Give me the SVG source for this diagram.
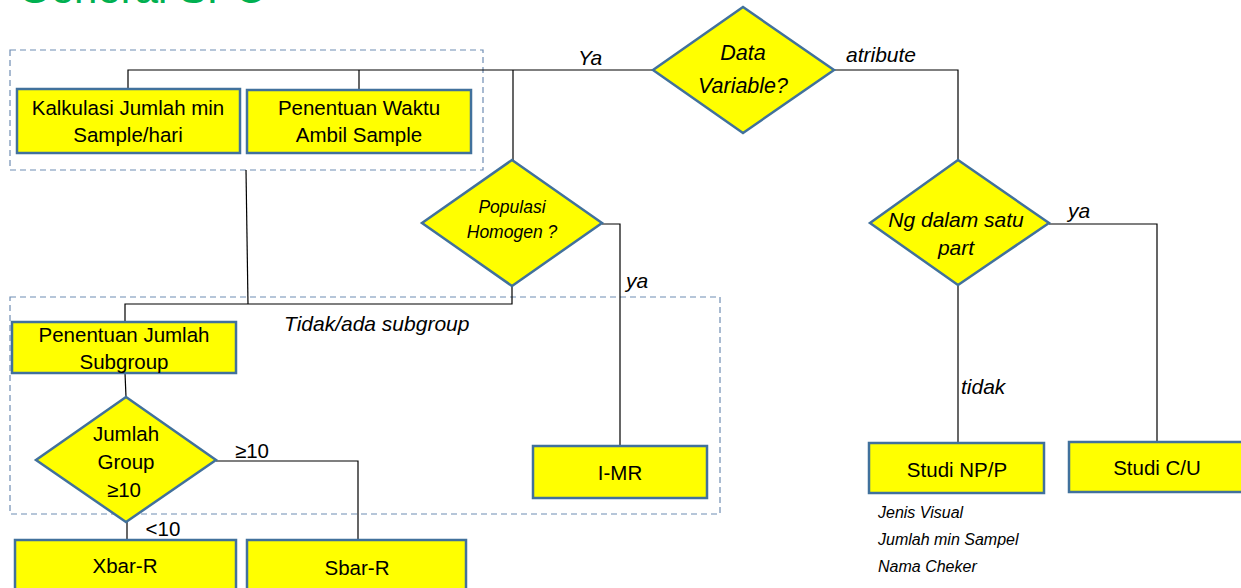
<svg xmlns="http://www.w3.org/2000/svg" width="1241" height="588" viewBox="0 0 1241 588">
<style>
.box{fill:#FFFF00;stroke:#41719C;stroke-width:2.5}
.grp{fill:none;stroke:#6F8DB3;stroke-width:1.2;stroke-dasharray:6 4}
.ln{fill:none;stroke:#000;stroke-width:1.2}
.t{font-family:"Liberation Sans",Arial,sans-serif;font-size:20.5px;fill:#000;text-anchor:middle}
.i{font-style:italic}
.lb{font-family:"Liberation Sans",Arial,sans-serif;font-size:21px;font-style:italic;fill:#000}
.n{font-family:"Liberation Sans",Arial,sans-serif;font-size:16px;font-style:italic;fill:#000}
</style>
<rect width="1241" height="588" fill="#fff"/>
<text x="18" y="3" font-family="Liberation Sans,Arial,sans-serif" font-size="42" fill="#00B050">General SPC</text>
<g id="groups">
<rect class="grp" x="10" y="50" width="473" height="120"/>
<rect class="grp" x="10" y="297" width="710" height="217"/>
</g>
<g id="connectors">
<polyline class="ln" points="653,70 128,70 128,89"/>
<line class="ln" x1="359" y1="70" x2="359" y2="90"/>
<line class="ln" x1="513" y1="70" x2="513" y2="160"/>
<polyline class="ln" points="834,70 958,70 958,160"/>
<polyline class="ln" points="1049,224 1157,224 1157,442"/>
<line class="ln" x1="958" y1="285" x2="958" y2="443"/>
<polyline class="ln" points="602,224 620,224 620,446"/>
<polyline class="ln" points="512,286 512,304 125,304 125,322"/>
<line class="ln" x1="246" y1="170" x2="248" y2="304"/>
<line class="ln" x1="125" y1="373" x2="126" y2="397"/>
<polyline class="ln" points="216,461 358,461 358,540"/>
<line class="ln" x1="127" y1="522" x2="127" y2="540"/>
</g>
<g id="labels">
<text class="lb" x="578" y="65">Ya</text>
<text class="lb" x="846" y="62">atribute</text>
<text class="lb" x="1068" y="218">ya</text>
<text class="lb" x="961" y="394">tidak</text>
<text class="lb" x="626" y="288">ya</text>
<text class="lb" x="284" y="331">Tidak/ada subgroup</text>
<text class="t" x="252" y="458">≥10</text>
<text class="t" x="163" y="536">&lt;10</text>
</g>
<g id="n-kalkulasi">
<rect class="box" x="17" y="89" width="223" height="64"/>
<text class="t" x="128" y="115">Kalkulasi Jumlah min</text>
<text class="t" x="128" y="142">Sample/hari</text>
</g>
<g id="n-waktu">
<rect class="box" x="247" y="90" width="224" height="63"/>
<text class="t" x="359" y="115">Penentuan Waktu</text>
<text class="t" x="359" y="142">Ambil Sample</text>
</g>
<g id="n-datavar">
<polygon class="box" points="743,7 834,70 743,133 653,70"/>
<text class="t i" x="743" y="60" style="font-size:21.5px">Data</text>
<text class="t i" x="743" y="93" style="font-size:21.5px">Variable?</text>
</g>
<g id="n-populasi">
<polygon class="box" points="512,160 602,223 512,286 422,223"/>
<text class="t i" x="512" y="213" style="font-size:17.5px">Populasi</text>
<text class="t i" x="512" y="238" style="font-size:17.5px">Homogen ?</text>
</g>
<g id="n-ng">
<polygon class="box" points="958,160 1049,223 958,285 870,223"/>
<text class="t i" x="956" y="227" style="font-size:21px">Ng dalam satu</text>
<text class="t i" x="956" y="255" style="font-size:21px">part</text>
</g>
<g id="n-penentuan-jumlah">
<rect class="box" x="12" y="322" width="224" height="51"/>
<text class="t" x="124" y="342">Penentuan Jumlah</text>
<text class="t" x="124" y="369">Subgroup</text>
</g>
<g id="n-jumlah-group">
<polygon class="box" points="126,397 216,460 126,522 36,460"/>
<text class="t" x="126" y="441">Jumlah</text>
<text class="t" x="126" y="469">Group</text>
<text class="t" x="124" y="497">≥10</text>
</g>
<g id="n-imr">
<rect class="box" x="533" y="446" width="174" height="52"/>
<text class="t" x="620" y="480">I-MR</text>
</g>
<g id="n-npp">
<rect class="box" x="869" y="443" width="175" height="50"/>
<text class="t" x="957" y="477">Studi NP/P</text>
</g>
<g id="n-cu">
<rect class="box" x="1069" y="442" width="177" height="50"/>
<text class="t" x="1157" y="475">Studi C/U</text>
</g>
<g id="n-xbar">
<rect class="box" x="15" y="540" width="221" height="56"/>
<text class="t" x="125" y="573">Xbar-R</text>
</g>
<g id="n-sbar">
<rect class="box" x="247" y="540" width="219" height="56"/>
<text class="t" x="357" y="575">Sbar-R</text>
</g>
<g id="notes">
<text class="n" x="878" y="518">Jenis Visual</text>
<text class="n" x="878" y="545">Jumlah min Sampel</text>
<text class="n" x="878" y="572">Nama Cheker</text>
</g>
</svg>
